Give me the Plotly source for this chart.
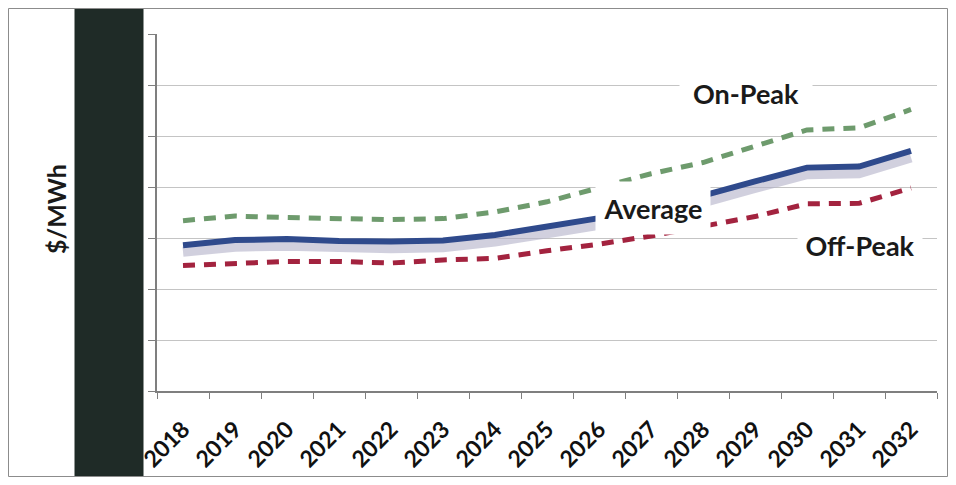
import plotly.graph_objects as go

years = ["2018", "2019", "2020", "2021", "2022", "2023", "2024", "2025",
         "2026", "2027", "2028", "2029", "2030", "2031", "2032"]
on_peak = [33.4, 34.3, 34.0, 33.8, 33.6, 33.8, 35.1, 37.1, 39.8, 42.6, 44.8, 47.9, 51.2, 51.6, 55.2]
average = [28.6, 29.6, 29.8, 29.4, 29.3, 29.5, 30.6, 32.2, 33.9, 36.2, 38.3, 41.1, 43.8, 44.0, 47.1]
off_peak = [24.6, 25.1, 25.4, 25.4, 25.1, 25.7, 26.0, 27.5, 28.8, 30.4, 32.4, 34.2, 36.7, 36.8, 39.8]
shadow_drop = 1.3

# The page body adds an 8px margin, so the figure is shrunk to fit the window.
OFF = 8
FW, FH = 956 - 2 * OFF, 485 - 2 * OFF
# plot-area geometry in screen px (reference coordinates)
L, R, T, B = 157, 937, 34, 391
W, H = R - L, B - T


def px(x):
    return (x - L) / W


def py(y):
    return (B - y) / H


fig = go.Figure()
fig.add_trace(go.Scatter(x=years, y=[v - shadow_drop for v in average], mode="lines",
                         line=dict(color="rgba(178,176,200,0.6)", width=10),
                         hoverinfo="skip", showlegend=False))
fig.add_trace(go.Scatter(x=years, y=on_peak, mode="lines", name="On-Peak",
                         line=dict(color="#6e9b6d", width=5, dash="12px,9px")))
fig.add_trace(go.Scatter(x=years, y=off_peak, mode="lines", name="Off-Peak",
                         line=dict(color="#a3233f", width=5, dash="12px,9px")))
fig.add_trace(go.Scatter(x=years, y=average, mode="lines", name="Average",
                         line=dict(color="#2f4a8c", width=6)))

lab_font = dict(family="Lato", size=27, color="#1a1a1a", weight="bold")
labels = [("On-Peak", 746, 93, 130, 30), ("Average", 653, 208, 112, 50),
          ("Off-Peak", 860, 245, 122, 30)]
for txt, cx, cy, w, h in labels:
    fig.add_annotation(x=px(cx), y=py(cy), xref="paper", yref="paper", text=txt,
                       xanchor="center", yanchor="middle", width=w, height=h,
                       showarrow=False, font=lab_font, bgcolor="white", borderpad=1)
fig.add_annotation(x=px(56), y=py(209), xref="paper", yref="paper", text="<b>$/MWh</b>",
                   xanchor="center", yanchor="middle", showarrow=False, textangle=-90,
                   font=dict(family="Lato", size=25, color="#1a1a1a"))

# redaction block over the y tick labels
fig.add_shape(type="rect", xref="paper", yref="paper",
              x0=px(75), x1=px(143), y0=py(476), y1=py(9),
              fillcolor="#1f2b27", line=dict(color="#1f2b27", width=1), layer="above")
# outer chart frame
fig.add_shape(type="rect", xref="paper", yref="paper",
              x0=px(8.5), x1=px(947.5), y0=py(476.5), y1=py(8.5),
              line=dict(color="#8c8c8c", width=1), fillcolor="rgba(0,0,0,0)")

fig.update_xaxes(type="category", range=[-0.5, len(years) - 0.5], tickson="boundaries",
                 ticks="outside", ticklen=6, tickcolor="#7f7f7f",
                 showline=True, linecolor="#7f7f7f", linewidth=1.5,
                 showgrid=False, tickangle=-45, ticklabelstandoff=14, automargin=False,
                 tickfont=dict(family="Lato", size=23, color="#111111", weight="bold"))
fig.update_yaxes(range=[0, 70], dtick=10, showticklabels=False, automargin=False,
                 ticks="outside", ticklen=7, tickcolor="#7f7f7f",
                 showline=True, linecolor="#7f7f7f", linewidth=1.5,
                 showgrid=True, gridcolor="#c4c4c4", gridwidth=1.2, zeroline=False)
fig.update_layout(width=FW, height=FH, showlegend=False,
                  margin=dict(l=L - OFF, r=FW - (R - OFF), t=T - OFF, b=FH - (B - OFF),
                              autoexpand=False),
                  plot_bgcolor="white", paper_bgcolor="white")
fig.write_html("out.html")
